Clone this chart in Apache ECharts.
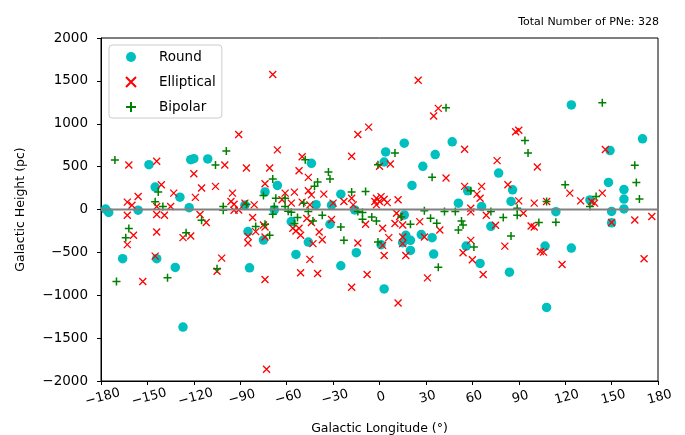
<!DOCTYPE html>
<html>
<head>
<meta charset="utf-8">
<script src="https://cdn.jsdelivr.net/npm/echarts@6/dist/echarts.min.js"></script>
<style>
  html, body { margin: 0; padding: 0; background: #fff; }
  #chart { width: 685px; height: 435px; }
</style>
</head>
<body>
<div id="chart"></div>
<script>
// Planetary nebulae by morphology: [galactic longitude (deg), galactic height (pc)]
const categories = ['Round', 'Elliptical', 'Bipolar'];

const roundPts = [
  [-149,523],[-145,261],[-129,144],[-122,581],[-120,593],[-111,590],[-177,5],[-175,-35],[-156,-8],[-123,21],
  [-166,-574],[-144,-574],[-132,-676],[-127,-1371],[-74,205],[-85,-258],[-57,-141],[-44,539],[-66,281],[-25,179],
  [-41,56],[-31,50],[-87,50],[-68,-5],[-84,-680],[-75,-356],[-54,-524],[-46,-380],[-25,-656],[-15,-504],
  [-32,-172],[-16,-5],[16,-63],[51,74],[57,218],[16,774],[4,672],[3,554],[36,640],[47,789],
  [28,504],[21,281],[66,35],[77,425],[86,230],[85,94],[1,-410],[17,-301],[20,-360],[15,-387],
  [20,-477],[27,-293],[34,-328],[35,-520],[3,-926],[56,-427],[65,-629],[72,-196],[84,-731],[114,-25],
  [136,112],[150,-23],[150,-155],[158,232],[158,121],[158,7],[124,1219],[170,824],[149,687],[148,316],
  [107,-427],[124,-450],[108,-1142]
];

const ellipticalPts = [
  [-162,519],[-144,563],[-120,417],[-115,250],[-106,270],[-100,519],[-141,288],[-133,191],[-156,152],[-163,86],
  [-160,50],[-119,141],[-135,35],[-95,191],[-96,94],[-94,62],[-91,874],[-163,-67],[-159,-301],[-163,-410],
  [-144,-262],[-145,-544],[-153,-840],[-139,-67],[-144,-59],[-127,-328],[-122,-309],[-116,-59],[-112,-152],[-102,-567],
  [-105,-720],[-94,-8],[-144,35],[-91,-5],[-87,74],[-82,-94],[-75,-180],[-80,-258],[-61,191],[-63,113],
  [-69,1574],[-66,695],[-86,484],[-71,484],[-50,616],[-52,452],[-46,375],[-74,300],[-46,218],[-44,171],
  [-36,179],[-18,621],[-14,874],[-7,961],[-30,74],[-23,94],[-18,132],[-81,54],[-57,74],[-50,86],
  [-3,94],[-2,132],[-73,-1863],[-74,-817],[-51,-738],[-40,-747],[-45,-582],[-43,-398],[-37,-352],[-39,-262],
  [-51,-301],[-54,-251],[-47,-105],[-44,-152],[-31,-117],[-14,-391],[-8,-758],[-18,-907],[-9,-172],[-85,-313],
  [-85,-391],[-74,-321],[-74,-204],[-45,54],[-17,54],[0,94],[-2,54],[12,113],[11,-43],[13,-82],
  [-52,-219],[2,-219],[26,-141],[15,-180],[39,-239],[-56,-219],[-55,203],[25,1507],[38,1179],[35,1090],
  [55,703],[88,906],[90,925],[43,367],[7,531],[0,504],[55,270],[66,270],[63,179],[65,132],
  [59,15],[76,570],[83,288],[1,150],[3,120],[5,80],[6,-328],[2,-418],[3,-536],[10,-164],
  [15,-321],[15,-398],[17,-536],[29,-321],[31,-797],[12,-1090],[59,-360],[54,-504],[60,-586],[67,-758],
  [75,-184],[81,-427],[69,-67],[59,-28],[90,101],[93,-43],[100,74],[98,-192],[100,-204],[108,94],
  [123,191],[130,101],[137,94],[139,74],[144,191],[150,-152],[165,-122],[176,-82],[146,699],[102,496],
  [104,-489],[106,-497],[118,-641],[171,-574]
];

const bipolarPts = [
  [-171,578],[-99,683],[-106,519],[-143,203],[-145,89],[-140,35],[-101,35],[-162,-223],[-164,-328],[-170,-840],
  [-137,-797],[-125,-270],[-115,-125],[-105,-691],[-101,-8],[-86,62],[-80,-199],[-74,-172],[-69,-55],[-68,35],
  [-67,132],[-61,35],[-48,581],[-33,437],[-32,355],[-40,320],[-42,270],[-69,355],[-75,164],[-61,132],
  [-18,203],[-9,211],[-1,523],[-49,74],[-71,-301],[-55,-164],[-53,-94],[-43,-134],[-37,-67],[-25,-204],
  [-23,-360],[-11,-114],[-11,-35],[-5,-87],[-2,-134],[-1,-380],[-59,-20],[-57,-32],[-46,-23],[-14,-23],
  [29,-16],[42,-23],[49,-23],[33,-102],[37,-161],[20,-172],[53,-134],[54,-180],[51,-239],[43,1187],
  [10,660],[34,375],[59,218],[72,-23],[89,15],[65,2030],[14,-87],[61,-438],[38,-673],[80,-94],
  [85,-309],[89,-67],[103,-152],[114,-149],[108,94],[136,35],[140,152],[168,121],[144,1246],[94,804],
  [96,660],[120,288],[165,516],[166,316]
];

const totalLabel = 'Total Number of PNe: 328';
const xTicks = { min: -180, max: 180, step: 30 };
const yTicks = { min: -2000, max: 2000, step: 500 };

const FONT = 'DejaVu Sans';
const minusFmt = v => (v < 0 ? '\u2212' + Math.abs(v) : String(v));

const crossPath = 'path://M0,0L10,10M10,0L0,10';
const plusPath = 'path://M5,0L5,10M0,5L10,5';

const chart = echarts.init(document.getElementById('chart'), null, { renderer: 'canvas' });

chart.setOption({
  animation: false,
  backgroundColor: '#ffffff',
  title: {
    text: totalLabel,
    right: 21,
    top: 12,
    textStyle: { fontFamily: FONT, fontSize: 11, fontWeight: 'normal', color: '#000' }
  },
  grid: {
    left: 101, right: 27, top: 38, bottom: 54,
    show: true, borderColor: '#000', borderWidth: 1,
    outerBoundsMode: 'none'
  },
  legend: {
    data: categories,
    orient: 'vertical',
    left: 109, top: 45,
    padding: [5, 6, 4, 16],
    itemWidth: 10, itemHeight: 10, itemGap: 11,
    borderColor: '#cccccc', borderWidth: 1, borderRadius: 3,
    backgroundColor: 'rgba(255,255,255,0.8)',
    textStyle: { fontFamily: FONT, fontSize: 13.5, color: '#000', padding: [0, 0, 0, 18] }
  },
  xAxis: {
    type: 'value',
    min: xTicks.min, max: xTicks.max, interval: xTicks.step,
    name: 'Galactic Longitude (\u00b0)',
    nameLocation: 'middle', nameGap: 41,
    nameTextStyle: { fontFamily: FONT, fontSize: 12.5, color: '#000' },
    axisLine: { onZero: false, lineStyle: { color: '#000', width: 1 } },
    axisTick: { show: true, inside: false, length: 4, lineStyle: { color: '#000' } },
    axisLabel: {
      formatter: minusFmt, rotate: 15, align: 'center', verticalAlign: 'top', margin: 10,
      fontFamily: FONT, fontSize: 13, color: '#000'
    },
    splitLine: { show: false }
  },
  yAxis: {
    type: 'value',
    min: yTicks.min, max: yTicks.max, interval: yTicks.step,
    name: 'Galactic Height (pc)',
    nameLocation: 'middle', nameGap: 74,
    nameTextStyle: { fontFamily: FONT, fontSize: 12.5, color: '#000' },
    axisLine: { show: true, onZero: false, lineStyle: { color: '#000', width: 1 } },
    axisTick: { show: true, inside: false, length: 4, lineStyle: { color: '#000' } },
    axisLabel: { formatter: minusFmt, margin: 13, fontFamily: FONT, fontSize: 13.5, color: '#000' },
    splitLine: { show: false }
  },
  series: [
    {
      name: 'Round', type: 'scatter', data: roundPts,
      symbol: 'circle', symbolSize: 9.5,
      itemStyle: { color: '#00bfbf', opacity: 1 },
      z: 2
    },
    {
      name: 'Elliptical', type: 'scatter', data: ellipticalPts,
      symbol: crossPath, symbolSize: 7, symbolKeepAspect: true,
      itemStyle: { color: 'rgba(0,0,0,0)', borderColor: '#ff0000', borderWidth: 1.3, opacity: 1 },
      z: 3
    },
    {
      name: 'Bipolar', type: 'scatter', data: bipolarPts,
      symbol: plusPath, symbolSize: 8, symbolKeepAspect: true,
      itemStyle: { color: 'rgba(0,0,0,0)', borderColor: '#008000', borderWidth: 1.5, opacity: 1 },
      z: 4
    },
    {
      name: 'zero', type: 'line', data: [[xTicks.min, 0], [xTicks.max, 0]],
      symbol: 'none', silent: true,
      lineStyle: { color: '#808080', width: 2 },
      z: 5
    }
  ]
});
</script>
</body>
</html>
